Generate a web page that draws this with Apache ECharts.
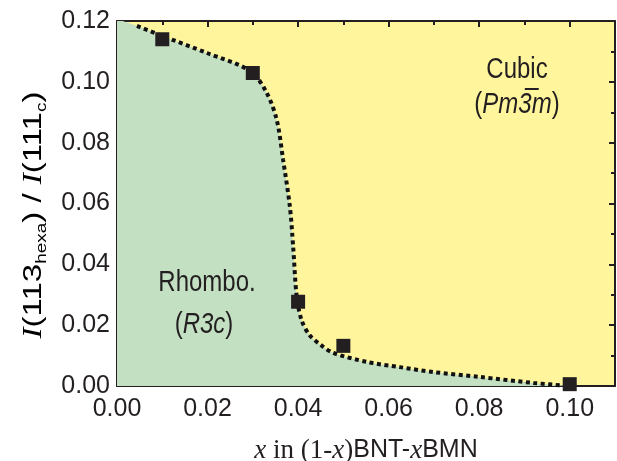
<!DOCTYPE html>
<html>
<head>
<meta charset="utf-8">
<script src="https://cdn.jsdelivr.net/npm/echarts@6/dist/echarts.min.js"></script>
<style>
    html, body { margin: 0; padding: 0; background: #fff; }
    #chart { width: 617px; height: 461px; }
</style>
</head>
<body>
<div id="chart"></div>
<script>
    // measured points: x in (1-x)BNT-xBMN, I(113hexa)/I(111c)
    var pointX = [0.01, 0.03, 0.04, 0.05, 0.10];
    var pointY = [0.114, 0.1029, 0.0277, 0.0132, 0.0006];

    // phase boundary (dotted guide line)
    var boundaryX = [0.0044, 0.01, 0.02, 0.0295, 0.0331, 0.0353, 0.0367, 0.0382, 0.0389, 0.0397, 0.0408, 0.0425,
        0.045, 0.0477, 0.0552, 0.0625, 0.0698, 0.08, 0.092, 0.10];
    var boundaryY = [0.1184, 0.1151, 0.1094, 0.1035, 0.0963, 0.0874, 0.0743, 0.0588, 0.046, 0.0293, 0.0215, 0.0168,
        0.0135, 0.0109, 0.0079, 0.0062, 0.0046, 0.003, 0.001, 0.0];

    var xTicks = [0, 0.11, 0.02];
    var yTicks = [0, 0.12, 0.02];

    var sans = "'Liberation Sans', Arial, sans-serif";
    var serif = "'Liberation Serif', 'Times New Roman', serif";
    var ink = '#231f20';

    var points = pointX.map(function (x, i) { return [x, pointY[i]]; });
    var boundary = boundaryX.map(function (x, i) { return [x, boundaryY[i]]; });
    // green region reaches the top-left corner
    var region = [[0, 0.1206]].concat(boundary);

    var myChart = echarts.init(document.getElementById('chart'));

    function frameAxis(pos, isX) {
        return {
            type: 'value',
            position: pos,
            min: isX ? xTicks[0] : yTicks[0],
            max: isX ? xTicks[1] : yTicks[1],
            interval: isX ? xTicks[2] : yTicks[2],
            axisLine: { show: true, onZero: false, lineStyle: { color: ink, width: 2 } },
            axisTick: { show: true, inside: true, length: 6, lineStyle: { color: ink, width: 2 } },
            minorTick: { show: true, splitNumber: 2, length: 4, lineStyle: { color: ink, width: 2 } },
            splitLine: { show: false },
            axisLabel: { show: false }
        };
    }

    var xBottom = frameAxis('bottom', true);
    xBottom.axisLabel = {
        show: true,
        margin: 11,
        color: ink,
        fontFamily: sans,
        fontSize: 25,
        formatter: function (v) { return v > 0.105 ? '' : v.toFixed(2); }
    };
    xBottom.name = '{i|x}{t| in (1-}{i|x}{t|)}{s|BNT-}{i|x}{s|BMN}';
    xBottom.nameLocation = 'middle';
    xBottom.nameGap = 51;
    xBottom.nameTextStyle = {
        rich: {
            i: { fontFamily: serif, fontStyle: 'italic', fontSize: 27, color: ink },
            t: { fontFamily: serif, fontSize: 27, color: ink },
            s: { fontFamily: sans, fontSize: 25, color: ink }
        }
    };

    var yLeft = frameAxis('left', false);
    yLeft.axisLabel = {
        show: true,
        margin: 7,
        color: ink,
        fontFamily: sans,
        fontSize: 25,
        formatter: function (v) { return v.toFixed(2); }
    };

    // horizontal labels squeezed like the source figure
    function label(x, y, text, rich) {
        return {
            type: 'text', x: x, y: y, scaleX: 0.8, z: 10,
            style: { text: text, rich: rich, font: '30px ' + sans, fill: ink, align: 'center', verticalAlign: 'middle' }
        };
    }
    var phaseRich = {
        p: { fontFamily: sans, fontSize: 30, color: ink },
        i: { fontFamily: sans, fontSize: 30, fontStyle: 'italic', color: ink }
    };

    var option = {
        animation: false,
        grid: {
            left: 117, right: 2, top: 21, bottom: 75,
            outerBoundsMode: 'none',
            show: true, backgroundColor: '#fff59d', borderWidth: 0
        },
        xAxis: [xBottom, frameAxis('top', true)],
        yAxis: [yLeft, frameAxis('right', false)],
        series: [
            {
                type: 'line',
                data: region,
                smooth: 0.3,
                symbol: 'none',
                lineStyle: { width: 0 },
                areaStyle: { color: '#c3e0c3', opacity: 1 },
                z: 1
            },
            {
                type: 'line',
                data: boundary,
                smooth: 0.3,
                symbol: 'none',
                lineStyle: { color: '#111', width: 4, type: [4, 3.5] },
                z: 3
            },
            {
                type: 'scatter',
                data: points,
                symbol: 'rect',
                symbolSize: 14,
                itemStyle: { color: ink, opacity: 1 },
                z: 4
            }
        ],
        graphic: [
            label(517, 70, 'Cubic'),
            label(517, 105, '{p|(}{i|Pm3\u0305m}{p|)}', phaseRich),
            label(207, 283, 'Rhombo.'),
            label(204, 325, '{p|(}{i|R3c}{p|)}', phaseRich),
            {
                // y axis title, glyph height squeezed like the source figure
                type: 'text', x: 34, y: 215, rotation: Math.PI / 2, scaleY: 0.8, z: 10,
                style: {
                    text: '{i|I}{n|(113}{s|hexa}{n|) / }{i|I}{n|(111}{s|c}{n|)}',
                    align: 'center', verticalAlign: 'middle',
                    rich: {
                        i: { fontFamily: serif, fontStyle: 'italic', fontWeight: 'normal', fontSize: 33, lineHeight: 38, color: ink },
                        n: { fontFamily: sans, fontWeight: 'normal', fontSize: 33, lineHeight: 38, color: ink },
                        s: { fontFamily: sans, fontWeight: 'normal', fontSize: 19, lineHeight: 19, padding: [15, 0, 0, 0],
                            verticalAlign: 'bottom', color: ink }
                    }
                }
            }
        ]
    };

    myChart.setOption(option);
</script>
</body>
</html>
